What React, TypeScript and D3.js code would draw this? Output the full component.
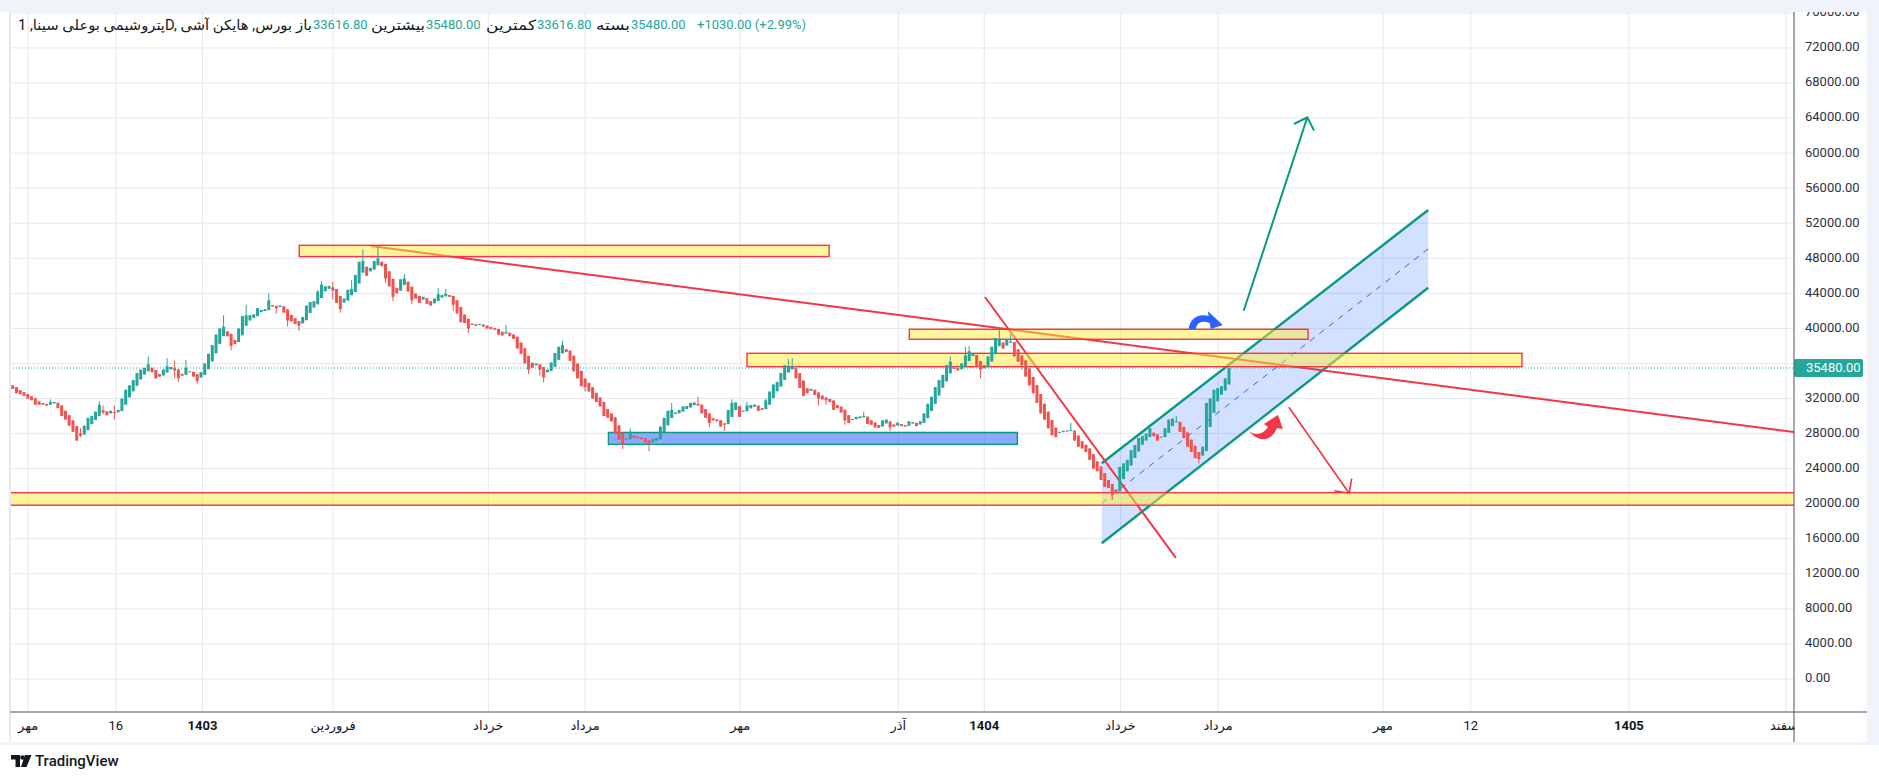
import * as d3 from "d3";
import { useEffect, useRef } from "react";

const WIDTH = 1879;
const HEIGHT = 781;
const FONT = "Roboto, 'DejaVu Sans', sans-serif";

const UP = "#26a69a";
const DOWN = "#ef5350";
const RED = "#f23645";
const TEAL = "#089981";
const BLUE = "#2962ff";
const TEXT = "#131722";
const GRID = "#e3e9f0";

// Heikin Ashi closes in thousand rials, one per daily bar, oldest first
const haClose = [
  33.1, 32.6, 32.5, 32.3, 32.0, 31.8, 31.3, 31.3, 31.3, 31.2,
  31.6, 31.6, 30.9, 30.0, 29.6, 28.9, 28.2, 27.2, 27.75, 28.9,
  29.8, 30.0, 30.5, 31.3, 30.4, 30.1, 30.6, 30.4, 30.7, 32.0,
  33.0, 33.5, 34.1, 34.9, 35.3, 35.5, 35.9, 35.0, 34.3, 34.5,
  35.3, 35.7, 35.6, 35.2, 34.3, 34.6, 35.5, 35.0, 34.5, 34.0,
  35.0, 36.0, 37.1, 38.1, 39.3, 40.0, 40.2, 39.1, 38.0, 38.2,
  40.0, 41.4, 41.5, 41.5, 41.6, 42.3, 42.1, 42.2, 43.2, 42.5,
  42.3, 42.6, 41.8, 40.9, 40.8, 40.5, 40.3, 41.3, 42.6, 43.0,
  43.1, 44.2, 45.0, 44.8, 44.85, 44.3, 42.9, 42.2, 43.4, 44.4,
  44.5, 46.1, 47.6, 47.7, 46.0, 46.9, 47.7, 48.0, 47.1, 45.7,
  44.8, 43.6, 44.0, 45.6, 45.7, 44.2, 43.2, 43.4, 42.9, 43.6,
  42.8, 42.6, 43.4, 43.9, 43.8, 43.95, 43.6, 42.7, 41.7, 40.7,
  40.6, 40.0, 40.4, 40.3, 40.5, 40.2, 40.0, 39.9, 39.85, 39.3,
  39.2, 39.6, 39.1, 38.8, 37.7, 37.1, 36.0, 35.3, 35.5, 36.0,
  35.3, 34.4, 35.3, 36.1, 37.2, 37.9, 38.1, 37.3, 36.3, 35.1,
  34.3, 33.4, 33.3, 32.8, 32.0, 31.6, 31.1, 30.0, 29.8, 29.4,
  28.0, 27.3, 26.7, 27.3, 28.2, 27.5, 27.45, 27.35, 27.0, 26.8,
  27.4, 27.5, 28.8, 29.8, 30.6, 30.7, 30.4, 30.7, 31.1, 31.15,
  31.5, 31.55, 31.2, 30.3, 29.8, 29.2, 29.5, 29.4, 28.8, 29.0,
  30.7, 31.5, 31.55, 29.9, 30.6, 31.2, 31.25, 31.3, 30.6, 30.7,
  31.8, 32.8, 33.6, 33.9, 34.9, 35.8, 35.7, 35.65, 34.3, 33.2,
  32.3, 32.6, 33.1, 32.4, 32.0, 31.9, 31.8, 31.6, 30.7, 30.9,
  30.4, 29.5, 29.2, 29.6, 29.9, 29.95, 30.0, 29.1, 29.0, 28.7,
  28.65, 29.5, 29.6, 28.7, 28.8, 29.25, 28.85, 28.8, 29.4, 29.3,
  28.85, 29.4, 30.3, 31.4, 32.2, 33.3, 34.1, 34.7, 35.8, 36.2,
  35.4, 35.2, 36.0, 36.9, 37.4, 37.1, 35.6, 35.3, 35.45, 36.8,
  37.9, 38.9, 38.8, 37.7, 38.7, 38.5, 36.8, 36.2, 35.8, 34.5,
  33.5, 32.6, 31.5, 30.3, 29.6, 28.6, 27.8, 27.6, 28.2, 28.3,
  28.35, 28.4, 27.2, 26.5, 26.3, 25.9, 25.0, 24.0, 23.7, 22.7,
  21.9, 21.8, 21.0, 21.2, 24.2, 24.6, 25.0, 26.1, 26.7, 27.5,
  27.7, 28.0, 28.6, 27.7, 27.2, 27.65, 28.6, 29.6, 29.7, 29.4,
  28.2, 27.5, 26.5, 25.9, 25.2, 25.1, 26.5, 31.5, 32.0, 33.0,
  33.2, 33.4, 34.3, 35.48,
];
const firstOpen = 33.5;

// bars whose wicks stick out of the body: [bar, high, low] in thousand rials
const wicks: [number, number | null, number | null][] = [
  [10, 31.9, null], [18, 28.6, 27.6], [23, 31.7, null], [24, 31.2, 30.2], [27, 31.2, 29.6],
  [36, 36.8, null], [41, 36.6, null], [43, 36.3, 34.3], [44, null, 33.9], [46, 36.4, null],
  [49, null, 33.7], [56, 41.5, null], [58, null, 37.5], [62, 42.7, null], [68, 44.0, null],
  [70, null, 41.7], [73, null, 40.2], [76, null, 39.7], [81, 44.4, null], [82, 45.4, null],
  [85, 45.3, 43.3], [87, null, 41.8], [90, 45.5, null], [93, 49.0, null], [97, 49.3, null],
  [99, null, 45.2], [101, null, 43.1], [104, 46.2, null], [106, null, 42.8], [113, 44.6, null],
  [115, 44.5, null], [117, null, 42.0], [121, null, 39.5], [131, 40.4, null], [137, null, 34.8],
  [140, null, 34.6], [141, null, 33.8], [146, 38.6, null], [152, null, 32.8], [162, null, 26.2],
  [164, 28.6, null], [169, null, 26.0], [175, 31.5, null], [182, 32.2, null], [185, null, 28.7],
  [189, null, 28.3], [191, 31.9, null], [195, 31.6, null], [200, 32.0, null], [206, 36.5, null],
  [207, 36.6, null], [214, null, 31.2], [216, null, 31.3], [221, null, 29.0], [226, 30.5, null],
  [233, null, 28.3], [249, 36.8, null], [253, 37.9, null], [254, 38.0, null], [257, null, 34.3],
  [262, 39.8, null], [265, 39.3, null], [268, null, 35.3], [281, 29.2, null], [292, null, 20.4],
  [309, 30.0, null], [315, null, 24.6],
];

const priceTicks = d3.range(0, 76001, 4000);
const lastPrice = 35480;

const timeTickBars = [4.1, 27.4, 50.4, 85.1, 126.3, 152.0, 193.2, 235.2, 258.0, 294.2, 320.1, 363.9, 387.2, 429.2, 470.9];
const timeTickLabels = ["مهر", "16", "1403", "فروردین", "خرداد", "مرداد", "مهر", "آذر", "1404", "خرداد", "مرداد", "مهر", "12", "1405", "اسفند"];
const yearLabels = ["1403", "1404", "1405"];

const legendTitle = "پتروشیمی بوعلی سینا, 1D, بورس, هایکن آشی";
const legendLabels = ["باز", "بیشترین", "کمترین", "بسته"];
const legendValues = ["33616.80", "35480.00", "33616.80", "35480.00"];
const legendChange = "+1030.00 (+2.99%)";

// drawings, anchored in bar index and price
const zones = [
  { from: 76.1, to: 216.8, top: 49480, bottom: 48190, kind: "yellow" },
  { from: 238.1, to: 344.0, top: 39900, bottom: 38760, kind: "yellow" },
  { from: 195.0, to: 400.8, top: 37160, bottom: 35630, kind: "yellow" },
  { from: 158.2, to: 266.8, top: 28130, bottom: 26770, kind: "blue" },
  { from: -5, to: 480, top: 21260, bottom: 19830, kind: "yellow" },
];
const trendLines = [
  { x1: 95.1, y1: 49400, x2: 473, y2: 28180 },
  { x1: 258.2, y1: 43580, x2: 308.9, y2: 13810 },
];
const channel = { from: 289.2, to: 375.9, upper: [24610, 53510], lower: [15480, 44640] };
const arrows = [
  { x1: 326.9, y1: 42020, x2: 343.8, y2: 64090, color: TEAL, width: 2 },
  { x1: 338.9, y1: 31000, x2: 354.9, y2: 21190, color: RED, width: 1.6 },
];
const icons = [
  { bar: 312.3, price: 39930, color: BLUE, dy: -19, path: "M0,19 C1,9 9,3 20,6 L19,1 L34,15 L22,19 L21,13 C14,10 8,12 7,19 Z" },
  { bar: 328.3, price: 30120, color: RED, dy: 0, path: "M0,16 C6,21 14,20 19,12 L15,9 L29,0 L34,14 L28,13 C24,24 12,30 0,16 Z" },
];

export default function App() {
  const svgRef = useRef<SVGSVGElement | null>(null);

  useEffect(() => {
    const svg = d3.select(svgRef.current);
    svg.selectAll("*").remove();

    const plotL = 10, plotR = 1794, plotT = 12, plotB = 712, frameR = 1867, frameB = 742;
    const x = d3.scaleLinear().domain([0, haClose.length - 1]).range([12.7, 1229]);
    const y = d3.scaleLinear().domain([0, 76000]).range([679, 12.86]);

    // frame
    svg.append("rect").attr("width", WIDTH).attr("height", HEIGHT).attr("fill", "#fff");
    svg.append("rect").attr("width", WIDTH).attr("height", plotT).attr("fill", "#f0f3fa");
    svg.append("rect").attr("x", frameR).attr("width", WIDTH - frameR).attr("height", frameB + 3).attr("fill", "#f0f3fa");
    svg.append("rect").attr("y", frameB).attr("width", WIDTH).attr("height", 3).attr("fill", "#f0f3fa");
    svg.append("rect").attr("x", 9).attr("y", plotT).attr("width", 2).attr("height", frameB - plotT).attr("fill", "#e6e9f0");

    const defs = svg.append("defs");
    defs.append("clipPath").attr("id", "plot").append("rect")
      .attr("x", plotL + 1).attr("y", plotT).attr("width", plotR - plotL - 1).attr("height", plotB - plotT);
    defs.append("clipPath").attr("id", "scale").append("rect")
      .attr("x", plotR).attr("y", plotT).attr("width", frameR - plotR).attr("height", plotB - plotT);

    // grid
    const grid = svg.append("g").attr("clip-path", "url(#plot)");
    grid.selectAll(".h").data(priceTicks).join("line").attr("class", "h")
      .attr("x1", plotL).attr("x2", plotR)
      .attr("y1", (d) => y(d)).attr("y2", (d) => y(d))
      .attr("stroke", GRID).attr("stroke-width", 1);
    grid.selectAll(".v").data(timeTickBars).join("line").attr("class", "v")
      .attr("x1", (d) => x(d)).attr("x2", (d) => x(d))
      .attr("y1", plotT).attr("y2", plotB)
      .attr("stroke", GRID).attr("stroke-width", 1);

    const layer = svg.append("g").attr("clip-path", "url(#plot)");

    // parallel channel
    const [cx1, cx2] = [x(channel.from), x(channel.to)];
    layer.append("path")
      .attr("d", `M${cx1},${y(channel.upper[0])} L${cx2},${y(channel.upper[1])} L${cx2},${y(channel.lower[1])} L${cx1},${y(channel.lower[0])} Z`)
      .attr("fill", "rgba(41,98,255,0.2)");
    layer.append("line")
      .attr("x1", cx1).attr("x2", cx2)
      .attr("y1", y((channel.upper[0] + channel.lower[0]) / 2)).attr("y2", y((channel.upper[1] + channel.lower[1]) / 2))
      .attr("stroke", BLUE).attr("stroke-width", 1).attr("stroke-dasharray", "6 6");
    [channel.upper, channel.lower].forEach((edge) => {
      layer.append("line")
        .attr("x1", cx1).attr("x2", cx2).attr("y1", y(edge[0])).attr("y2", y(edge[1]))
        .attr("stroke", TEAL).attr("stroke-width", 2.4);
    });

    // trend lines
    layer.selectAll(".trend").data(trendLines).join("line").attr("class", "trend")
      .attr("x1", (d) => x(d.x1)).attr("y1", (d) => y(d.y1))
      .attr("x2", (d) => x(d.x2)).attr("y2", (d) => y(d.y2))
      .attr("stroke", RED).attr("stroke-width", 2);

    // arrows
    arrows.forEach((a) => {
      const [x1, y1, x2, y2] = [x(a.x1), y(a.y1), x(a.x2), y(a.y2)];
      const back = Math.atan2(y1 - y2, x1 - x2);
      const arm = (s: number) => [x2 + 15 * Math.cos(back + s * Math.PI / 4), y2 + 15 * Math.sin(back + s * Math.PI / 4)];
      const [a1, a2] = [arm(1), arm(-1)];
      layer.append("path")
        .attr("d", `M${x1},${y1} L${x2},${y2} M${a1[0]},${a1[1]} L${x2},${y2} L${a2[0]},${a2[1]}`)
        .attr("fill", "none").attr("stroke", a.color).attr("stroke-width", a.width);
    });

    // zones
    layer.selectAll(".zone").data(zones).join("rect").attr("class", "zone")
      .attr("x", (d) => x(d.from)).attr("width", (d) => x(d.to) - x(d.from))
      .attr("y", (d) => y(d.top)).attr("height", (d) => y(d.bottom) - y(d.top))
      .attr("fill", (d) => (d.kind === "blue" ? "rgba(41,98,255,0.55)" : "rgba(255,235,59,0.5)"))
      .attr("stroke", (d) => (d.kind === "blue" ? TEAL : RED))
      .attr("stroke-width", 1.4);

    // heikin ashi candles
    const opens: number[] = [];
    haClose.forEach((c, i) => opens.push(i === 0 ? firstOpen : (opens[i - 1] + haClose[i - 1]) / 2));
    const wickMap = new Map(wicks.map((w) => [w[0], w]));
    const bars = haClose.map((c, i) => {
      const o = opens[i];
      const w = wickMap.get(i);
      return {
        i,
        o: o * 1000,
        c: c * 1000,
        h: Math.max(o, c, w?.[1] ?? -Infinity) * 1000,
        l: Math.min(o, c, w?.[2] ?? Infinity) * 1000,
      };
    });
    const candles = layer.append("g");
    candles.selectAll("line").data(bars).join("line")
      .attr("x1", (d) => x(d.i)).attr("x2", (d) => x(d.i))
      .attr("y1", (d) => y(d.h)).attr("y2", (d) => y(d.l))
      .attr("stroke", (d) => (d.c >= d.o ? UP : DOWN)).attr("stroke-width", 1);
    candles.selectAll("rect").data(bars).join("rect")
      .attr("x", (d) => x(d.i) - 1.5).attr("width", 3)
      .attr("y", (d) => y(Math.max(d.o, d.c)))
      .attr("height", (d) => Math.max(1, Math.abs(y(d.o) - y(d.c))))
      .attr("fill", (d) => (d.c >= d.o ? UP : DOWN));

    // last price line
    layer.append("line")
      .attr("x1", plotL).attr("x2", plotR).attr("y1", y(lastPrice)).attr("y2", y(lastPrice))
      .attr("stroke", UP).attr("stroke-width", 1).attr("stroke-dasharray", "1 2");

    // curved arrow marks
    icons.forEach((ic) => {
      layer.append("path")
        .attr("transform", `translate(${x(ic.bar)},${y(ic.price) + ic.dy})`)
        .attr("d", ic.path).attr("fill", ic.color);
    });

    // legend
    const ly = 26;
    const legend = svg.append("g").attr("font-family", FONT).attr("font-size", 13).attr("dominant-baseline", "middle");
    legend.append("text").attr("x", 18).attr("y", ly).attr("fill", TEXT)
      .attr("font-size", 14).attr("textLength", 274).attr("lengthAdjust", "spacingAndGlyphs")
      .text(legendTitle);
    const valueX = [313, 426, 537, 631];
    const labelW = [16, 54, 50, 34];
    legendLabels.forEach((l, i) => {
      legend.append("text").attr("x", valueX[i] - 1 - labelW[i]).attr("y", ly).attr("fill", TEXT)
        .attr("font-size", 14).attr("textLength", labelW[i]).attr("lengthAdjust", "spacingAndGlyphs")
        .text(l);
      legend.append("text").attr("x", valueX[i]).attr("y", ly).attr("fill", UP).text(legendValues[i]);
    });
    legend.append("text").attr("x", 697).attr("y", ly).attr("fill", UP).text(legendChange);

    // time axis
    const timeAxis = svg.append("g").attr("font-family", FONT).attr("font-size", 13);
    timeAxis.selectAll("text").data(timeTickBars).join("text")
      .attr("x", (d) => x(d)).attr("y", 727)
      .attr("text-anchor", "middle").attr("dominant-baseline", "middle")
      .attr("fill", TEXT)
      .attr("font-weight", (_, i) => (yearLabels.includes(timeTickLabels[i]) ? 700 : 400))
      .text((_, i) => timeTickLabels[i]);

    // price scale (the tick hidden behind the last-price tag is left out)
    svg.append("rect").attr("x", plotR + 1).attr("y", plotT).attr("width", frameR - plotR - 1).attr("height", frameB - plotT).attr("fill", "#fff");
    const scale = svg.append("g").attr("clip-path", "url(#scale)").attr("font-family", FONT).attr("font-size", 13);
    scale.selectAll("text").data(priceTicks.filter((t) => Math.abs(y(t) - y(lastPrice)) > 12)).join("text")
      .attr("x", 1805).attr("y", (d) => y(d))
      .attr("dominant-baseline", "middle").attr("fill", "#2e3240")
      .text((d) => d3.format(".2f")(d));
    scale.append("rect")
      .attr("x", plotR).attr("y", y(lastPrice) - 9).attr("width", 69).attr("height", 18).attr("rx", 2)
      .attr("fill", UP);
    scale.append("text")
      .attr("x", 1806).attr("y", y(lastPrice) + 0.5)
      .attr("dominant-baseline", "middle").attr("fill", "#fff")
      .text(d3.format(".2f")(lastPrice));

    // axis lines
    svg.append("line").attr("x1", plotL).attr("x2", frameR).attr("y1", plotB).attr("y2", plotB)
      .attr("stroke", "#50535e").attr("stroke-width", 1);
    svg.append("line").attr("x1", plotR).attr("x2", plotR).attr("y1", plotT).attr("y2", frameB)
      .attr("stroke", "#50535e").attr("stroke-width", 1);

    // watermark
    const mark = svg.append("g").attr("fill", TEXT);
    mark.append("path").attr("d", "M11,755 h9 v12 h-4.5 v-7.5 h-4.5 z");
    mark.append("circle").attr("cx", 22.5).attr("cy", 757.5).attr("r", 2.3);
    mark.append("path").attr("d", "M25,755 h6.5 l-5,12 h-5.5 z");
    mark.append("text").attr("x", 35).attr("y", 766).attr("font-family", FONT)
      .attr("font-size", 15).attr("font-weight", 500).text("TradingView");
  }, []);

  return (
    <>
      <style>{"body{margin:0}"}</style>
      <svg ref={svgRef} width={WIDTH} height={HEIGHT} style={{ display: "block" }} />
    </>
  );
}
